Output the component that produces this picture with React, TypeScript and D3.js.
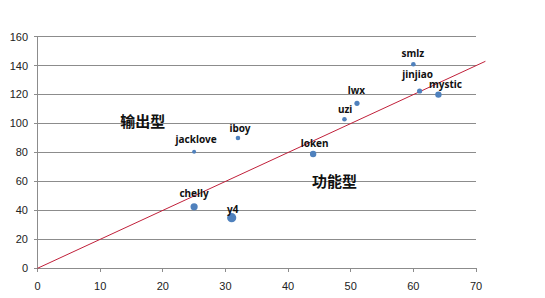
import React from "react";
import * as d3 from "d3";

const names = ["jacklove", "iboy", "loken", "chelly", "y4", "uzi", "lwx", "smlz", "jinjiao", "mystic"];
const xValues = [25, 32, 44, 25, 31, 49, 51, 60, 61, 64];
const yValues = [80.5, 90, 79, 42.5, 35, 103, 114, 141, 122.5, 120];
const sizes = [2, 2.3, 3.2, 3.6, 4.6, 2.3, 2.6, 2.3, 2.6, 3.2];
const xTicks = [0, 10, 20, 30, 40, 50, 60, 70];
const yTicks = [0, 20, 40, 60, 80, 100, 120, 140, 160];
const trendX = [0, 71.5];
const zoneLabels = ["输出型", "功能型"];
const zoneX = [16.8, 47.4];
const zoneY = [101.3, 59.8];

// label layout offsets (pixels) relative to each point
const labelDx = [2, 2, 1.5, 0, 1, 0.7, -0.5, -0.5, -2, 7];
const labelDy = [9, 6, 6.6, 10, 5, 6.6, 9, 7, 12.7, 7];

export default function App() {
  const W = 545, H = 298;
  const x = d3.scaleLinear().domain([0, 70]).range([37.5, 476]);
  const y = d3.scaleLinear().domain([0, 160]).range([268.3, 36.7]);
  const r = d3.scaleLinear().domain([2, 5]).range([2, 5]);
  const line = d3.line<number>().x((d) => x(d)).y((d) => y(2 * d));
  const font = "'Liberation Sans', Arial, sans-serif";
  return (
    <div style={{ position: "absolute", left: 0, top: 0 }}>
      <svg width={W} height={H} style={{ display: "block", background: "#fff" }}>
        {yTicks.map((t) => (
          <g key={"y" + t}>
            <line x1={34} x2={476} y1={y(t)} y2={y(t)} stroke="#8c8c8c" strokeWidth={1} shapeRendering="crispEdges" />
            <text x={28} y={y(t)} dy="0.35em" textAnchor="end" fontFamily={font} fontSize={11} fill="#222">{t}</text>
          </g>
        ))}
        <line x1={x(0)} x2={x(0)} y1={y(160)} y2={y(0)} stroke="#8c8c8c" shapeRendering="crispEdges" />
        {xTicks.map((t) => (
          <g key={"x" + t}>
            <line x1={x(t)} x2={x(t)} y1={y(0)} y2={y(0) + 4} stroke="#8c8c8c" shapeRendering="crispEdges" />
            <text x={x(t)} y={290} textAnchor="middle" fontFamily={font} fontSize={11} fill="#222">{t}</text>
          </g>
        ))}
        <path d={line(trendX) || ""} stroke="#c0203a" strokeWidth={1} fill="none" />
        {names.map((n, i) => (
          <g key={n}>
            <circle cx={x(xValues[i])} cy={y(yValues[i])} r={r(sizes[i])} fill="#4f81bd" />
            <text
              x={x(xValues[i]) + labelDx[i]}
              y={y(yValues[i]) - labelDy[i]}
              textAnchor="middle"
              fontFamily="'Noto Sans', 'DejaVu Sans', sans-serif"
              fontWeight="bold"
              fontSize={10}
              fill="#111"
            >
              {n}
            </text>
          </g>
        ))}
        {zoneLabels.map((l, i) => (
          <text
            key={l}
            x={x(zoneX[i])}
            y={y(zoneY[i])}
            dy="0.35em"
            textAnchor="middle"
            fontFamily="'Noto Sans CJK SC', sans-serif"
            fontWeight="bold"
            fontSize={15}
            fill="#111"
          >
            {l}
          </text>
        ))}
      </svg>
    </div>
  );
}
